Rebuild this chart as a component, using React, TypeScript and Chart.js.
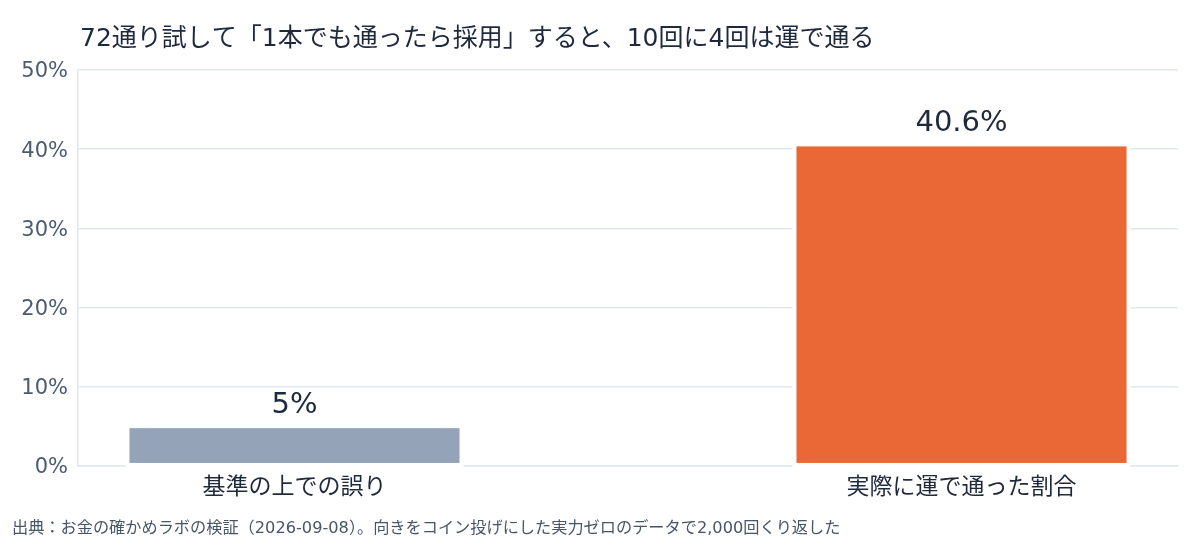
import { useEffect, useRef } from 'react';
import { Chart, registerables } from 'chart.js';

Chart.register(...registerables);

const FONT = "'DejaVu Sans', 'Noto Sans CJK JP', sans-serif";

const titleText = '72通り試して「1本でも通ったら採用」すると、10回に4回は運で通る';
const sourceText =
  '出典：お金の確かめラボの検証（2026-09-08）。向きをコイン投げにした実力ゼロのデータで2,000回くり返した';

const categories = ['基準の上での誤り', '実際に運で通った割合'];
const baselineError = [5, null];
const luckyPassRate = [null, 40.6];
const yTicks = [0, 10, 20, 30, 40, 50];

// title, source note, white bar outlines, value labels and category labels under each bar
const decorPlugin = {
  id: 'decor',
  afterDatasetsDraw(chart: Chart) {
    const { ctx } = chart;
    ctx.save();
    chart.data.datasets.forEach((ds, di) => {
      const meta = chart.getDatasetMeta(di);
      meta.data.forEach((el: any, i) => {
        const v = ds.data[i] as number | null;
        if (v == null) return;
        const left = el.x - el.width / 2;
        ctx.strokeStyle = '#ffffff';
        ctx.lineWidth = 4;
        ctx.strokeRect(left, el.y, el.width, el.base - el.y);
        ctx.fillStyle = '#1e293b';
        ctx.font = `29px ${FONT}`;
        ctx.textAlign = 'center';
        ctx.textBaseline = 'alphabetic';
        ctx.fillText(`${v}%`, el.x, el.y - 13);
        ctx.font = `23px ${FONT}`;
        ctx.textBaseline = 'middle';
        ctx.fillText(categories[i], el.x, el.base + 23);
      });
    });
    ctx.textAlign = 'left';
    ctx.textBaseline = 'alphabetic';
    ctx.fillStyle = '#1e293b';
    ctx.font = `25px ${FONT}`;
    ctx.fillText(titleText, 80, 46);
    ctx.fillStyle = '#475569';
    ctx.font = `16.2px ${FONT}`;
    ctx.fillText(sourceText, 12, 533);
    ctx.restore();
  },
};

export default function App() {
  const canvasRef = useRef<HTMLCanvasElement>(null);

  useEffect(() => {
    document.body.style.margin = '0';
    if (!canvasRef.current) return;
    const chart = new Chart(canvasRef.current, {
      type: 'bar',
      data: {
        labels: categories,
        datasets: [
          {
            label: categories[0],
            data: baselineError,
            backgroundColor: '#94a3b8',
            borderWidth: 0,
          },
          {
            label: categories[1],
            data: luckyPassRate,
            backgroundColor: '#ea6836',
            borderWidth: 0,
          },
        ],
      },
      options: {
        responsive: false,
        animation: false,
        categoryPercentage: 0.4255,
        barPercentage: 2.855,
        layout: { padding: { top: 70, right: 22, bottom: 0, left: 0 } },
        plugins: {
          legend: { display: false },
          tooltip: { enabled: false },
        },
        scales: {
          x: {
            grid: { display: false },
            border: { display: true, color: '#e2e8f0', width: 1.5 },
            ticks: { display: false },
            afterFit: (scale: any) => {
              scale.height = 74.3;
            },
          },
          y: {
            min: 0,
            max: 50,
            afterBuildTicks: (scale: any) => {
              scale.ticks = yTicks.map((value) => ({ value }));
            },
            grid: { color: '#e2e8f0', lineWidth: 1.5, drawTicks: false },
            border: { display: true, color: '#e2e8f0', width: 1.5 },
            ticks: {
              color: '#4b5b70',
              font: { family: FONT, size: 21 },
              padding: 10,
              labelOffset: 2,
              callback: (v) => `${v}%`,
            },
            afterFit: (scale: any) => {
              scale.width = 78;
            },
          },
        },
      },
      plugins: [decorPlugin],
    });
    return () => chart.destroy();
  }, []);

  return <canvas ref={canvasRef} width={1200} height={540} style={{ display: 'block' }} />;
}
